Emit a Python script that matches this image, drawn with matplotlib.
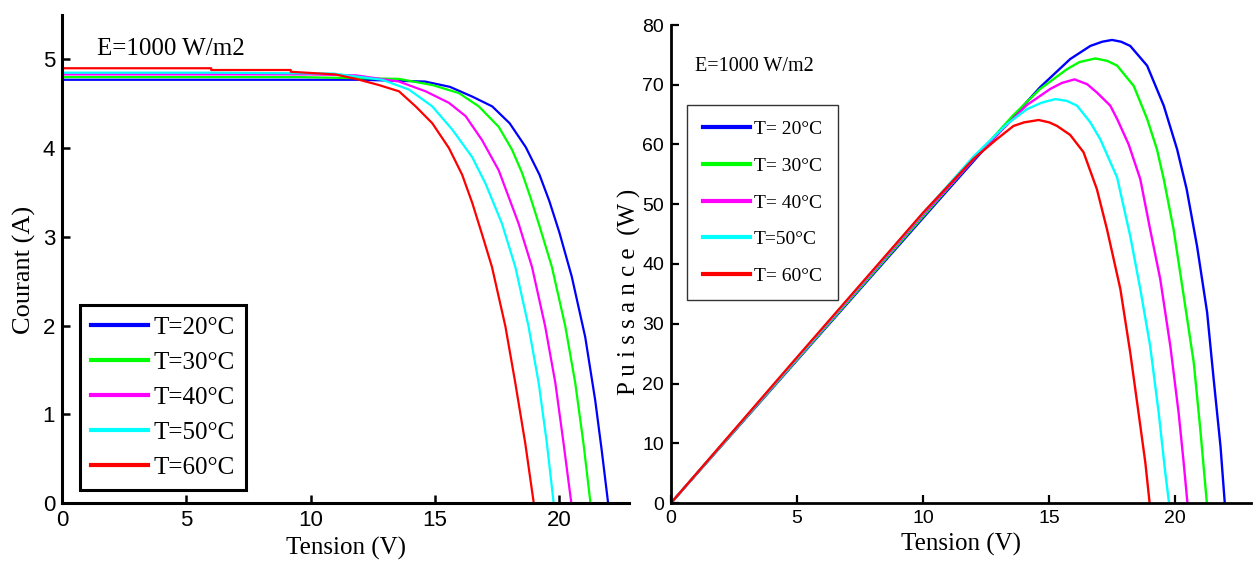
import matplotlib
matplotlib.use("Agg")
import matplotlib.pyplot as plt
from matplotlib import font_manager

# fonts: Times-like for labels, Arial-like for tick numbers
serif = "Liberation Serif"
sans = "Liberation Sans"
try:
    font_manager.findfont("Liberation Sans Narrow", fallback_to_default=False)
    narrow = "Liberation Sans Narrow"
except Exception:
    narrow = "Liberation Sans"

labels_iv = ["T=20°C", "T=30°C", "T=40°C", "T=50°C", "T=60°C"]
labels_pv = ["T= 20°C", "T= 30°C", "T= 40°C", "T=50°C", "T= 60°C"]
colors = ["#0000ff", "#00ff00", "#ff00ff", "#00ffff", "#ff0000"]

# I-V curves
v_20 = [0, 6, 9.5, 12, 14.6, 15.6, 16.5, 17.3, 18.0, 18.65, 19.2, 19.6, 20.0, 20.5, 21.04, 21.44, 21.7, 21.96]
i_20 = [4.77, 4.77, 4.77, 4.77, 4.75, 4.69, 4.58, 4.47, 4.28, 4.01, 3.70, 3.40, 3.05, 2.55, 1.87, 1.16, 0.6, 0.0]
v_30 = [0, 6, 9.5, 13.55, 14.9, 15.96, 16.76, 17.56, 18.1, 18.5, 18.83, 19.17, 19.7, 20.24, 20.64, 20.97, 21.25]
i_30 = [4.80, 4.80, 4.80, 4.78, 4.71, 4.62, 4.47, 4.24, 3.98, 3.72, 3.45, 3.15, 2.66, 1.99, 1.35, 0.67, 0.0]
v_40 = [0, 6, 10, 11.82, 13.55, 14.62, 15.56, 16.23, 16.89, 17.56, 17.96, 18.36, 18.9, 19.43, 19.84, 20.17, 20.48]
i_40 = [4.83, 4.83, 4.83, 4.82, 4.75, 4.64, 4.51, 4.36, 4.09, 3.75, 3.45, 3.15, 2.66, 1.99, 1.35, 0.67, 0.0]
v_50 = [0, 6, 10.9, 12.88, 13.95, 14.89, 15.69, 16.49, 17.03, 17.69, 18.23, 18.76, 19.17, 19.5, 19.77]
i_50 = [4.85, 4.85, 4.84, 4.77, 4.66, 4.47, 4.21, 3.90, 3.60, 3.15, 2.66, 1.99, 1.35, 0.67, 0.0]
v_60 = [0, 6.0, 6.0, 9.2, 9.2, 11.0, 11.82, 12.75, 13.55, 14.22, 14.89, 15.56, 16.09, 16.5, 16.9, 17.29, 17.83, 18.23, 18.63, 18.97]
i_60 = [4.90, 4.90, 4.88, 4.88, 4.86, 4.83, 4.78, 4.71, 4.64, 4.47, 4.28, 4.0, 3.70, 3.38, 3.02, 2.66, 1.99, 1.35, 0.67, 0.0]

# P-V curves
pv_20 = [0, 5, 10.54, 12.5, 14.64, 15.83, 16.63, 17.1, 17.49, 17.85, 18.21, 18.88, 19.54, 20.07, 20.45, 20.86, 21.26, 21.52, 21.79, 21.96]
p_20 = [0, 23.9, 50.3, 59.6, 69.6, 74.3, 76.5, 77.2, 77.5, 77.2, 76.5, 73.2, 66.5, 59.2, 52.5, 43.0, 31.9, 20.7, 9.5, 0]
pv_30 = [0, 5, 10, 12.5, 13.55, 14.64, 15.7, 16.2, 16.83, 17.3, 17.69, 18.35, 18.88, 19.27, 19.54, 19.93, 20.33, 20.73, 20.99, 21.25]
p_30 = [0, 24.0, 48.0, 59.9, 64.8, 69.3, 72.6, 73.8, 74.4, 74.0, 73.2, 69.8, 64.3, 59.2, 54.2, 45.8, 34.7, 23.5, 12.3, 0]
pv_40 = [0, 5, 10, 12.5, 14.11, 15.04, 15.5, 16.0, 16.5, 16.89, 17.42, 17.7, 18.15, 18.61, 19.0, 19.4, 19.8, 20.13, 20.33, 20.48]
p_40 = [0, 24.15, 48.3, 59.8, 66.6, 69.3, 70.3, 70.9, 70.1, 68.7, 66.5, 64.2, 60.0, 54.2, 45.8, 37.5, 26.3, 15.1, 6.75, 0]
pv_50 = [0, 5, 10, 12.0, 13.32, 14.11, 14.7, 15.24, 15.7, 16.1, 16.63, 17.02, 17.69, 18.21, 18.61, 19.0, 19.34, 19.6, 19.75]
p_50 = [0, 24.25, 48.5, 58.0, 63.4, 65.9, 67.0, 67.6, 67.3, 66.5, 63.7, 60.9, 54.5, 44.7, 35.8, 26.3, 15.1, 5.1, 0]
pv_60 = [0, 5, 10, 12.0, 12.92, 13.58, 14.0, 14.58, 15.0, 15.31, 15.83, 16.36, 16.89, 17.29, 17.82, 18.21, 18.54, 18.81, 18.98]
p_60 = [0, 24.4, 48.6, 57.6, 60.9, 63.1, 63.7, 64.1, 63.7, 63.1, 61.6, 58.7, 52.5, 45.8, 35.8, 25.2, 15.1, 6.75, 0]

iv = [(v_20, i_20), (v_30, i_30), (v_40, i_40), (v_50, i_50), (v_60, i_60)]
pv = [(pv_20, p_20), (pv_30, p_30), (pv_40, p_40), (pv_50, p_50), (pv_60, p_60)]

fig = plt.figure(figsize=(12.53, 5.74), dpi=100)
ax1 = fig.add_axes([62 / 1253, 71 / 574, 567 / 1253, 488 / 574])
ax2 = fig.add_axes([671 / 1253, 71 / 574, 580 / 1253, 478 / 574])

for ax in (ax1, ax2):
    ax.spines["top"].set_visible(False)
    ax.spines["right"].set_visible(False)

# left plot: current vs voltage
for (x, y), c, lab in zip(iv, colors, labels_iv):
    ax1.plot(x, y, color=c, lw=1.6, label=lab)
ax1.set_xlim(0, 22.8)
ax1.set_ylim(0, 5.5)
ax1.set_xticks([0, 5, 10, 15, 20])
ax1.set_yticks([0, 1, 2, 3, 4, 5])
ax1.spines["left"].set_linewidth(2.2)
ax1.spines["bottom"].set_linewidth(2.2)
ax1.tick_params(direction="in", length=6, width=1.8, labelsize=16, pad=5)
for t in ax1.get_xticklabels() + ax1.get_yticklabels():
    t.set_fontfamily(sans)
ax1.set_xlabel("Tension (V)", fontsize=18, family=serif, labelpad=4)
ax1.set_ylabel("Courant (A)", fontsize=19, family=serif)
ax1.yaxis.set_label_coords(-0.046, 0.477)
ax1.text(1.4, 5.12, "E=1000 W/m2", fontsize=18, family=serif, va="center")
leg1 = ax1.legend(loc="upper left", bbox_to_anchor=(80 / 1253, 269 / 574),
                  bbox_transform=fig.transFigure, borderaxespad=0,
                  prop={"family": serif, "size": 18}, handlelength=2.25,
                  handletextpad=0.25, labelspacing=0.5, borderpad=0.45,
                  fancybox=False, framealpha=1)
leg1.get_frame().set_edgecolor("black")
leg1.get_frame().set_linewidth(2.2)
for l in leg1.get_lines():
    l.set_linewidth(3)

# right plot: power vs voltage
for (x, y), c, lab in zip(pv, colors, labels_pv):
    ax2.plot(x, y, color=c, lw=1.7, label=lab)
ax2.set_xlim(0, 23)
ax2.set_ylim(0, 80)
ax2.set_xticks([0, 5, 10, 15, 20])
ax2.set_yticks([0, 10, 20, 30, 40, 50, 60, 70, 80])
ax2.spines["left"].set_linewidth(2.0)
ax2.spines["bottom"].set_linewidth(2.0)
ax2.tick_params(direction="in", length=6, width=1.6, labelsize=14, pad=5)
for t in ax2.get_xticklabels() + ax2.get_yticklabels():
    t.set_fontfamily(narrow)
ax2.set_xlabel("Tension (V)", fontsize=18, family=serif, labelpad=4)
ax2.set_ylabel("P u i s s a n c e  (W )", fontsize=18, family=serif)
ax2.yaxis.set_label_coords(-0.052, 0.442)
ax2.text(0.95, 73, "E=1000 W/m2", fontsize=14.5, family=serif, va="center")
leg2 = ax2.legend(loc="upper left", bbox_to_anchor=(687 / 1253, 469 / 574),
                  bbox_transform=fig.transFigure, borderaxespad=0,
                  prop={"family": serif, "size": 14}, handlelength=2.45,
                  handletextpad=0.2, labelspacing=0.98, borderpad=0.8,
                  fancybox=False, framealpha=1)
leg2.get_frame().set_edgecolor("#333333")
leg2.get_frame().set_linewidth(1.0)
for l in leg2.get_lines():
    l.set_linewidth(3)

fig.savefig("out.png", dpi=100)
